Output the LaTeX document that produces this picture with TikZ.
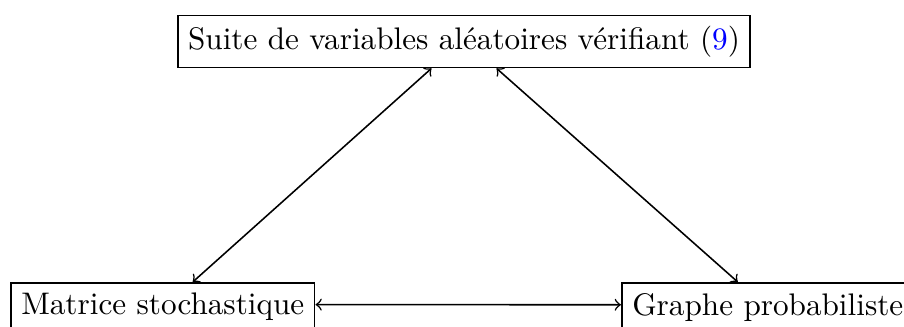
\documentclass[tikz,border=0pt]{standalone}
\usepackage{fontspec}
\begin{document}
\begin{tikzpicture}[x=0.3205pt,y=-0.3205pt,
  box/.style={draw,line width=0.55pt,inner sep=0.3333em},
  link/.style={<->,line width=0.5pt}]
\useasboundingbox (0,0) rectangle (904,327);
\node[box] (top) at (464,41.5) {Suite de variables aléatoires vérifiant (\textcolor{blue}{9})};
\node[box,anchor=north west] (left) at (10,282) {Matrice stochastique};
\node[box,anchor=north west] (right) at (621,282) {Graphe probabiliste};
\draw[link] ([xshift=-32.5*0.3205pt]top.south) -- ([xshift=30*0.3205pt]left.north);
\draw[link] ([xshift=32.5*0.3205pt]top.south) -- ([xshift=-30*0.3205pt]right.north);
\draw[link] ([yshift=0.8pt]left.east) -- ([yshift=0.8pt]right.west);
\end{tikzpicture}
\end{document}
